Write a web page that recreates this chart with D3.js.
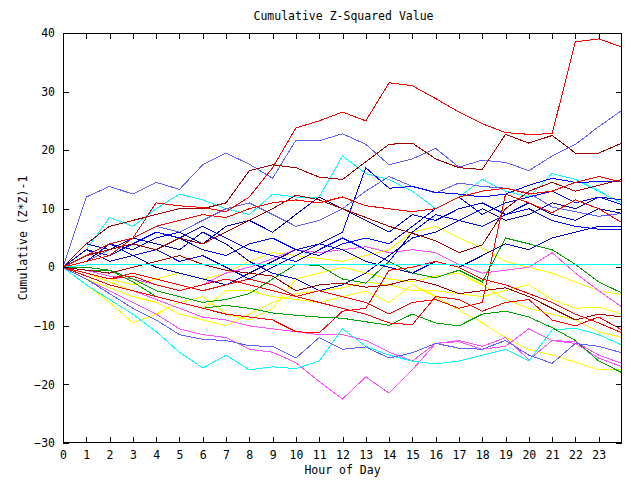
<!DOCTYPE html>
<html><head><meta charset="utf-8">
<script src="https://cdn.jsdelivr.net/npm/d3@7"></script>
<style>
body{margin:0;background:#fff}
svg{display:block}
text{font-family:"DejaVu Sans Mono",monospace;font-size:11.5px;fill:#000}
</style>
</head><body>
<svg id="chart" width="640" height="480"></svg>
<script>
const hours = d3.range(0, 25);
const xTicks = d3.range(0, 24);
const yTicks = [-30, -20, -10, 0, 10, 20, 30, 40];
const titleText = "Cumulative Z-Squared Value";
const xLabel = "Hour of Day";
const yLabel = "Cumulative (Z*Z)-1";

const redA     = [0,1,2,5,11,10.5,10.2,9.5,12,17,23.8,25,26.5,25,31.5,31,28.8,26.5,24.5,23,22.7,22.8,38.5,39,37.6];
const slateB   = [0,12,13.8,12.5,14.5,13.3,17.5,19.5,17.6,15.2,21.7,21.6,22.8,21,17.5,18.5,20.3,17.1,18.3,17.9,16.5,19,21,24,26.8];
const darkredC = [0,4,7,8,9,10,10,11,16.5,17.5,17,15.4,15,18,21,21.2,18.5,17,16.7,22.7,21.2,22.5,19.5,19.5,21.2];
const redF     = [0,2,4,5,7,8,9,8.5,10,11,11.5,11,12,10.5,10,9.5,10,12,13,13.5,12.5,13,14.5,15.5,14.5];
const redD     = [0,-1,-2,-1.5,-3,-4,-3,-2,-3,-4,-5,-4,-5,-6,-8,-6,-5.5,-7,-6,12.5,11,9.3,11.5,10,7.6];
const darkred2 = [0,2,3,4,3,5,4,6,8,10,12.3,11.5,10,8.5,7,5.8,4.5,2.5,3.8,10,13,14.5,13,14,15];
const darkred3 = [0,-0.5,-1,0,1,2,0.5,-0.5,-1,-1.5,-4,-3,-2.7,-3.4,-3,-2,-3,-4.5,-4,-3.5,-5,-7,-9,-8,-8.5];
const redG     = [0,-1.5,-3,-4,-5,-6,-7,-8,-8.5,-9,-11,-11.2,-7.5,-7,-0.5,0,1,0,-2,-3,-4.5,-6,-8,-9.5,-11.2];
const redH     = [0,-1,-2,-1,-2,-3,-4,-3,-2,-3,-5,-6,-7,-8,-9.5,-9.8,-5,-5.5,-7.5,-6,-5.5,-9,-10,-8.5,-10.7];
const blue1    = [0,3,2,4,3,1,2,0,-2,0,2,4,6,17,13.5,13.8,12.8,12.5,12,12.5,14,15.2,14.5,14.6,14.6];
const blue2    = [0,2,4,3,5,6,4,7,8,6,9,12,10,8,6,9,8,10,11,9,11,9,8,10,9.2];
const blue3    = [0,1,4,2,3,5,7,5,3,2,1,3,5,3,1,6,9,8,7,9,10,8,7,6.5,6.4];
const blue4    = [0,4,3,5,4,3,6,4,1,-1,-2,-4,-3,-1,2,5,6,8,10,8,9,11,10,12,11.5];
const blue5    = [0,2,3,4,6,5,3,2,4,5,3,2,4,5,4,7,10,12,9,11,12,13,11,12,10.7];
const blue6    = [0,3,1,2,0,-1,-2,-3,-1,1,3,4,3,1,0,-1,1,0,2,4,3,5,6,7,7];
const slate2   = [0,1,3,5,7,6,8,10,11,9,7,8,10,13,15.5,13.8,12.7,14.4,13.8,13.5,12.7,10.3,9.5,8.7,9.2];
const slateLow = [0,-2,-4.5,-7,-9,-11.5,-12.3,-12.5,-13.4,-13.5,-15.5,-12,-14,-13.6,-15.5,-14.6,-13,-13.8,-14,-12.5,-15,-16.4,-13,-13.5,-14.6];
const cyanTop  = [0,3,8.5,7,10,12.5,11.5,10,9,12.5,12,12,19,16,15,13,10,12,15,13,12,16,15,13,11];
const cyanLow  = [0,-3,-5.5,-8,-11,-14.5,-17.2,-15,-17.5,-17,-17.3,-16,-10.5,-13.5,-15,-16,-16.5,-16,-15,-14,-16,-10.7,-10.4,-11.5,-13.3];
const cyanFlat = [0,0.4,0.5,0.5,0.5,0.5,0.5,0.5,0.5,0.5,0.5,0.5,0.5,0.5,0.5,0.5,0.5,0.5,0.5,0.5,0.5,0.5,0.5,0.5,0.5];
const magenta1 = [0,-2,-4,-6,-8,-10.5,-11.5,-12,-14,-14.5,-16.3,-19.5,-22.5,-18.7,-21.5,-17.5,-13,-12.5,-13.5,-12,-15.8,-12.5,-13,-15.5,-17];
const magenta2 = [0,-1.5,-3,-4,-5.5,-7,-8.5,-9,-10,-10.5,-11,-11.5,-11.5,-12.5,-14.5,-16,-13,-12.7,-14,-13.5,-10.5,-12.5,-12.7,-15,-16.4];
const magenta3 = [0,-0.5,-1.5,-2,-3,-4,-3,-1,0,1.5,3,2.5,3,3.5,2.5,3,2.5,0.5,-1,-0.5,0,2.5,-1,-4,-6.8];
const yellow1  = [0,-3,-6,-9.5,-8,-6,-7,-4,-4,-5,-5.5,-6,-5,-4,-6,-3,-5,-7.3,-9.5,-12,-14,-15,-16.2,-17.5,-17.5];
const yellow2  = [0,-1,-2,-3,-2,-1,-2,-1,1,2.5,2,1.5,1,2,3,6,7,5,3.3,1,0,-1,-2.5,-4,-4.7];
const yellow3  = [0,-2,-3.5,-5,-6,-8,-9,-10,-8,-6,-4.5,-4,-3.5,-2.5,-3,-4,-4,-4.5,-5,-4,-3,-5.5,-7,-6.8,-8];
const yellow4  = [0,-1,-2.5,-4,-5,-6,-5,-8,-9,-7,-2,-1,0,-1,-2,-2.5,-1.5,-1,-3,-5.5,-7,-8,-9,-11,-12];
const green1   = [0,-0.5,-0.5,-2.5,-5,-6,-7,-6.5,-7,-7.8,-8.2,-8.5,-8.7,-9.3,-9.9,-8,-9.5,-10,-8,-7.5,-8.5,-10.3,-12.5,-16,-18];
const green2   = [0,0,-0.5,-2,-4,-5,-6,-5.5,-4.5,-2,0.5,0.3,-2,-2.7,1,-1,-1.8,-0.5,-2.5,5,4,3,0.5,-2.5,-4.4];

const series = [
  {values: yellow1, color: "#ffff00"}, {values: yellow2, color: "#ffff00"},
  {values: yellow3, color: "#ffff00"}, {values: yellow4, color: "#ffff00"},
  {values: magenta1, color: "#ff50ff"}, {values: magenta2, color: "#ff50ff"},
  {values: magenta3, color: "#ff50ff"},
  {values: cyanLow, color: "#00ffff"}, {values: cyanTop, color: "#00ffff"},
  {values: green1, color: "#00a000"}, {values: green2, color: "#00a000"},
  {values: slateLow, color: "#6060ff"}, {values: slate2, color: "#6060ff"},
  {values: slateB, color: "#6060ff"},
  {values: blue1, color: "#0000ff"}, {values: blue2, color: "#0000c0"},
  {values: blue3, color: "#0000ff"}, {values: blue4, color: "#0000c0"},
  {values: blue5, color: "#0000ff"}, {values: blue6, color: "#0000c0"},
  {values: darkredC, color: "#a00000"}, {values: darkred2, color: "#a00000"},
  {values: darkred3, color: "#a00000"},
  {values: redF, color: "#ff0000"}, {values: redD, color: "#ff0000"},
  {values: redG, color: "#ff0000"}, {values: redH, color: "#ff0000"},
  {values: redA, color: "#ff0000"},
  {values: cyanFlat, color: "#00ffff"}
];

const svg = d3.select("#chart");
const L = 63, R = 622, T = 33, B = 443;
const x = d3.scaleLinear().domain([0, 24]).range([L, R]);
const y = d3.scaleLinear().domain([-30, 40]).range([B, T]);

const line = d3.line().x((d, i) => x(hours[i])).y(d => y(d));

svg.append("g").selectAll("path").data(series).join("path")
  .attr("d", d => line(d.values))
  .attr("fill", "none")
  .attr("stroke", d => d.color)
  .attr("stroke-width", 1)
  .attr("shape-rendering", "crispEdges");

// axes with inward ticks on all sides
const gB = svg.append("g").attr("transform", `translate(0,${B})`)
  .call(d3.axisBottom(x).tickValues(xTicks).tickSize(-6).tickSizeOuter(0).tickPadding(8).tickFormat(d3.format("d")));
const gT = svg.append("g").attr("transform", `translate(0,${T})`)
  .call(d3.axisTop(x).tickValues(xTicks).tickSize(-6).tickSizeOuter(0).tickFormat(""));
const gL = svg.append("g").attr("transform", `translate(${L},0)`)
  .call(d3.axisLeft(y).tickValues(yTicks).tickSize(-6).tickSizeOuter(0).tickPadding(8).tickFormat(d3.format("d")));
const gR = svg.append("g").attr("transform", `translate(${R},0)`)
  .call(d3.axisRight(y).tickValues(yTicks).tickSize(-6).tickSizeOuter(0).tickFormat(""));

[gB, gT, gL, gR].forEach(g => {
  g.select(".domain").remove();
  g.selectAll("line").attr("stroke", "#000").attr("shape-rendering", "crispEdges");
  g.selectAll("text").attr("fill", "#000")
    .style("font-family", '"DejaVu Sans Mono", monospace').style("font-size", "11.5px");
});

svg.append("rect").attr("x", L + 0.5).attr("y", T + 0.5)
  .attr("width", R - L - 1).attr("height", B - T - 1)
  .attr("fill", "none").attr("stroke", "#000").attr("stroke-width", 1)
  .attr("shape-rendering", "crispEdges");

svg.append("text").attr("x", (L + R) / 2 + 1).attr("y", 20)
  .attr("text-anchor", "middle").text(titleText);
svg.append("text").attr("x", (L + R) / 2).attr("y", 474)
  .attr("text-anchor", "middle").text(xLabel);
svg.append("text").attr("transform", `translate(27,${(T + B) / 2}) rotate(-90)`)
  .attr("text-anchor", "middle").text(yLabel);
</script>
</body></html>
